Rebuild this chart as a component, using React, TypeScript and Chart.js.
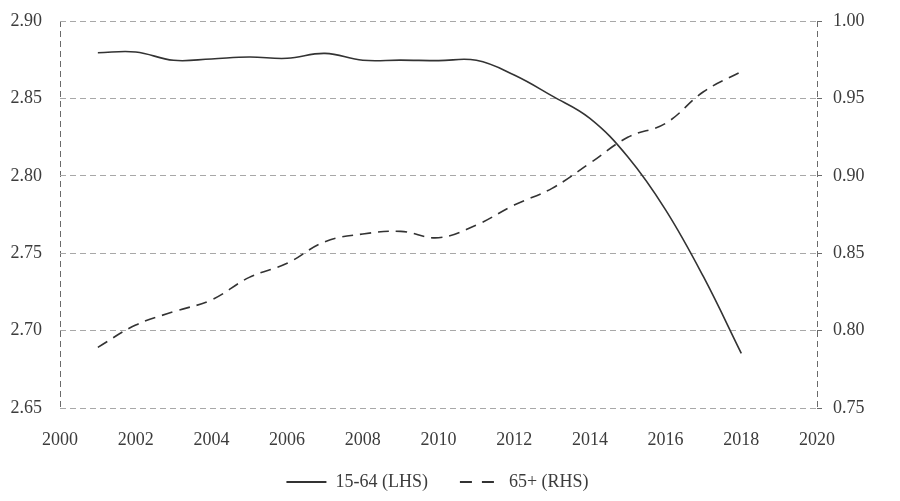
import React, { useEffect, useRef } from "react";
import { Chart, registerables } from "chart.js";

Chart.register(...registerables);

const years = [2001, 2002, 2003, 2004, 2005, 2006, 2007, 2008, 2009, 2010, 2011, 2012, 2013, 2014, 2015, 2016, 2017, 2018];
const workingAge = [2.8795, 2.880, 2.8746, 2.8755, 2.8767, 2.8759, 2.8791, 2.8746, 2.8747, 2.8744, 2.8746, 2.8651, 2.8516, 2.8371, 2.8123, 2.778, 2.7348, 2.6853];
const elderly = [0.7892, 0.8036, 0.8122, 0.8198, 0.8344, 0.8435, 0.8574, 0.8624, 0.8641, 0.860, 0.8682, 0.8811, 0.8919, 0.9081, 0.9249, 0.9339, 0.9543, 0.9673];
const seriesLabels = ["15-64 (LHS)", "65+ (RHS)"];
const xMin = 2000;
const xMax = 2020;
const leftMin = 2.65;
const leftMax = 2.9;
const rightMin = 0.75;
const rightMax = 1.0;

const FONT = "'Liberation Serif', 'Times New Roman', serif";
const TEXT = "#3c3c3c";
const LEGEND_TRIM = 15;

const legendNudge = {
  id: "legendNudge",
  beforeLayout(chart: any) {
    const lg = chart.legend;
    if (lg && !lg.__patched) {
      const orig = lg.fit.bind(lg);
      lg.fit = function () {
        orig();
        this.height = Math.max(0, this.height - LEGEND_TRIM);
      };
      lg.__patched = true;
    }
  },
  afterLayout(chart: any) {
    const lg = chart.legend;
    if (lg) {
      lg.top -= LEGEND_TRIM;
      lg.height += LEGEND_TRIM;
    }
  },
};

export default function App() {
  const ref = useRef<HTMLCanvasElement | null>(null);
  useEffect(() => {
    if (!ref.current) return;
    const chart = new Chart(ref.current, {
      type: "line",
      plugins: [legendNudge],
      data: {
        datasets: [
          {
            label: seriesLabels[0],
            data: years.map((y, i) => ({ x: y, y: workingAge[i] })),
            borderColor: "#333333",
            backgroundColor: "#333333",
            borderWidth: 1.6,
            pointRadius: 0,
            tension: 0.4,
            yAxisID: "y",
          },
          {
            label: seriesLabels[1],
            data: years.map((y, i) => ({ x: y, y: elderly[i] })),
            borderColor: "#333333",
            backgroundColor: "#333333",
            borderWidth: 1.6,
            borderDash: [11, 7],
            pointRadius: 0,
            tension: 0.4,
            yAxisID: "y2",
          },
        ],
      },
      options: {
        animation: false,
        responsive: false,
        maintainAspectRatio: false,
        layout: { padding: { left: 10, right: 35, top: 21, bottom: 0 } },
        plugins: {
          tooltip: { enabled: false },
          legend: {
            position: "bottom",
            labels: {
              font: { family: FONT, size: 18 },
              color: TEXT,
              usePointStyle: true,
              pointStyleWidth: 40,
              padding: 32,
              generateLabels: (c: any) => {
                const items = Chart.defaults.plugins.legend.labels.generateLabels(c);
                return items.map((it: any, i: number) => ({
                  ...it,
                  pointStyle: "line",
                  lineWidth: 2,
                  strokeStyle: "#333333",
                  fillStyle: "#333333",
                  lineDash: i === 1 ? [12, 10] : [],
                }));
              },
            },
          },
        },
        scales: {
          x: {
            type: "linear",
            min: xMin,
            max: xMax,
            afterFit: (s: any) => {
              s.paddingLeft = 0;
              s.paddingRight = 0;
              s.height = 48;
            },
            ticks: {
              stepSize: 2,
              padding: 25,
              font: { family: FONT, size: 18, lineHeight: 0.8 },
              color: TEXT,
              callback: (v: any) => String(v),
            },
            grid: {
              drawTicks: false,
              color: (ctx: any) =>
                ctx.tick && (ctx.tick.value === xMin || ctx.tick.value === xMax) ? "#6a6a6a" : "rgba(0,0,0,0)",
              lineWidth: 1,
            },
            border: { display: false, dash: [6, 4] },
          },
          y: {
            type: "linear",
            position: "left",
            min: leftMin,
            max: leftMax,
            afterFit: (s: any) => {
              s.paddingTop = 0;
              s.paddingBottom = 0;
              s.width = 50;
            },
            ticks: {
              stepSize: 0.05,
              padding: 18,
              font: { family: FONT, size: 18 },
              color: TEXT,
              callback: (v: any) => Number(v).toFixed(2),
            },
            grid: { drawTicks: false, color: "#a8a8a8", lineWidth: 1 },
            border: { display: false, dash: [6, 4] },
          },
          y2: {
            type: "linear",
            position: "right",
            min: rightMin,
            max: rightMax,
            afterFit: (s: any) => {
              s.paddingTop = 0;
              s.paddingBottom = 0;
              s.width = 48;
            },
            ticks: {
              stepSize: 0.05,
              padding: 11,
              font: { family: FONT, size: 18 },
              color: TEXT,
              callback: (v: any) => Number(v).toFixed(2),
            },
            grid: { drawOnChartArea: false, drawTicks: true, tickLength: 5, tickColor: "#6a6a6a" },
            border: { display: false },
          },
        },
      },
    });
    return () => chart.destroy();
  }, []);
  return (
    <div style={{ position: "fixed", left: 0, top: 0, width: 900, height: 501, background: "#fff" }}>
      <canvas ref={ref} width={900} height={501} style={{ width: 900, height: 501, display: "block" }} />
    </div>
  );
}
